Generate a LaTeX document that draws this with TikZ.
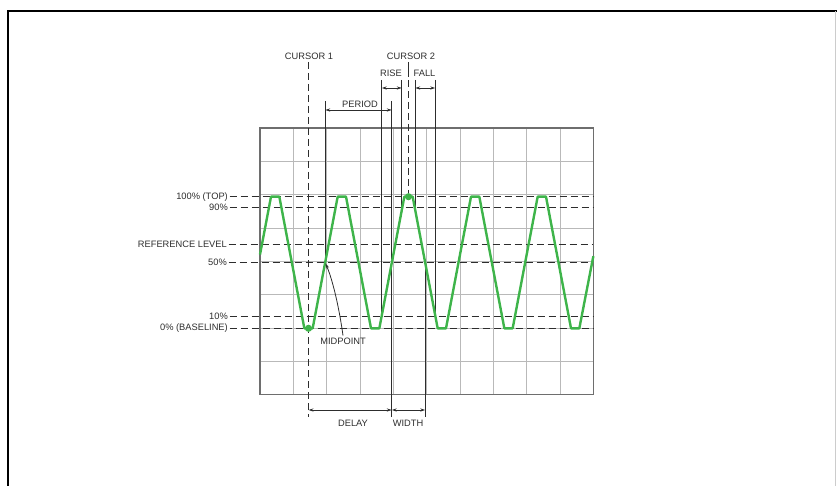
\documentclass[tikz,border=0pt]{standalone}
\usepackage{fontspec}
\setmainfont{Liberation Sans}
\usetikzlibrary{arrows.meta}
\definecolor{wavegreen}{RGB}{62,180,74}
\definecolor{gridgray}{RGB}{185,185,185}
\definecolor{boxgray}{RGB}{110,110,110}
\definecolor{inkgray}{RGB}{45,45,45}
\begin{document}
\begin{tikzpicture}[x=1pt,y=-1pt,
  lbl/.style={font=\fontsize{9.3}{10}\selectfont, text=inkgray, inner sep=0pt},
  lvl/.style={draw=inkgray, line width=0.9pt, dash pattern=on 7pt off 4pt},
  cursorline/.style={draw=inkgray, line width=0.9pt, dash pattern=on 7pt off 4pt},
  extline/.style={draw=inkgray, line width=0.8pt},
  dimline/.style={draw=inkgray, line width=0.8pt, {Stealth[length=5pt,width=3.2pt]}-{Stealth[length=5pt,width=3.2pt]}},
  wave/.style={draw=wavegreen, line width=2.4pt, line join=round},
  gridline/.style={draw=gridgray, line width=0.7pt},
  dot/.style={fill=wavegreen}
]
\useasboundingbox (0,0) rectangle (837,486);
% outer frame
\draw[line width=2pt] (7.5,486) -- (7.5,11.5) -- (837,11.5);
\draw[black!20, line width=0.6pt] (835.5,11.5) -- (835.5,486);

% graticule
\foreach \i in {1,...,9} \draw[gridline] ({260+33.333*\i},128) -- ++(0,266.67);
\foreach \j in {1,...,7} \draw[gridline] (260,{128+33.333*\j}) -- ++(333.33,0);
\draw[boxgray, line width=1.1pt] (260,128) rectangle (593.33,394.67);
\coordinate (gr) at (593.33,0);

% level labels and dashed levels
\node[lbl, anchor=east] (ltop) at (228,196.7) {100\% (TOP)};
\node[lbl, anchor=east] (l90)  at (228,207.5) {90\%};
\node[lbl, anchor=east] (lref) at (227,244)   {REFERENCE LEVEL};
\node[lbl, anchor=east] (l50)  at (227,262.5) {50\%};
\node[lbl, anchor=east] (l10)  at (228,316.7) {10\%};
\node[lbl, anchor=east] (l0)   at (228,328.3) {0\% (BASELINE)};
\foreach \n in {ltop,l90,lref,l50,l10,l0}
  \draw[lvl, shorten <=1.5pt] (\n.east) -- (\n.east -| gr);

% key x positions
\coordinate (c1) at (308.5,0);
\coordinate (c2) at (408.5,0);
\coordinate (pS) at (325.2,0);
\coordinate (pE) at (391.8,0);
\coordinate (rS) at (381.8,0);
\coordinate (rE) at (401.8,0);
\coordinate (fS) at (415.2,0);
\coordinate (fE) at (435.2,0);
\coordinate (wE) at (425.2,0);

% top labels
\node[lbl] (cur1) at (309,56) {CURSOR 1};
\node[lbl] (cur2) at (411,56) {CURSOR 2};
\node[lbl] (rise) at (391,73) {RISE};
\node[lbl] (fall) at (424.5,73) {FALL};
\node[lbl] (period) at (360,104) {PERIOD};
\node[lbl] (delay) at (353,423) {DELAY};
\node[lbl] (width) at (408,423) {WIDTH};
\node[lbl] (mid) at (343,341) {MIDPOINT};

% cursors
\draw[cursorline] (c1 |- 0,62) -- (c1 |- 0,417);
\draw[extline] (c2 |- 0,62) -- (c2 |- 0,77);
\draw[cursorline] (c2 |- 0,80) -- (c2 |- 0,196.7);

% extension lines
\draw[extline] (rS |- 0,80) -- (rS |- 0,316.7);
\draw[extline] (rE |- 0,80) -- (rE |- 0,207.5);
\draw[extline] (fS |- 0,80) -- (fS |- 0,207.5);
\draw[extline] (fE |- 0,80) -- (fE |- 0,316.7);
\draw[extline] (pS |- 0,101) -- (pS |- 0,262.5);
\draw[extline] (pE |- 0,101) -- (pE |- 0,417);
\draw[extline] (wE |- 0,262.5) -- (wE |- 0,417);

% dimension arrows
\draw[dimline] (rS |- 0,88) -- (rE |- 0,88);
\draw[dimline] (fS |- 0,88) -- (fE |- 0,88);
\draw[dimline] (pS |- 0,110) -- (pE |- 0,110);
\draw[dimline] (c1 |- 0,410) -- (pE |- 0,410);
\draw[dimline] (pE |- 0,410) -- (wE |- 0,410);

% waveform
\draw[wave] (260,254.6)
  \foreach \k in {0,...,4}{
    -- ({258.5+66.667*\k+12.5},196.7) -- ({258.5+66.667*\k+20.833},196.7)
    -- ({258.5+66.667*\k+45.833},328.3) -- ({258.5+66.667*\k+54.167},328.3)
  } -- (593.33,256.2);
\fill[dot] (c1 |- 0,328.3) circle[radius=3.6pt];
\fill[dot] (c2 |- 0,196.7) circle[radius=3.6pt];

% midpoint leader
\coordinate (mp) at (325.6,263.5);
\draw[extline, -{Stealth[length=5pt,width=3.2pt]}] ([yshift=2pt]mid.north) .. controls (338,300) and (331,276) .. (mp);
\end{tikzpicture}
\end{document}
